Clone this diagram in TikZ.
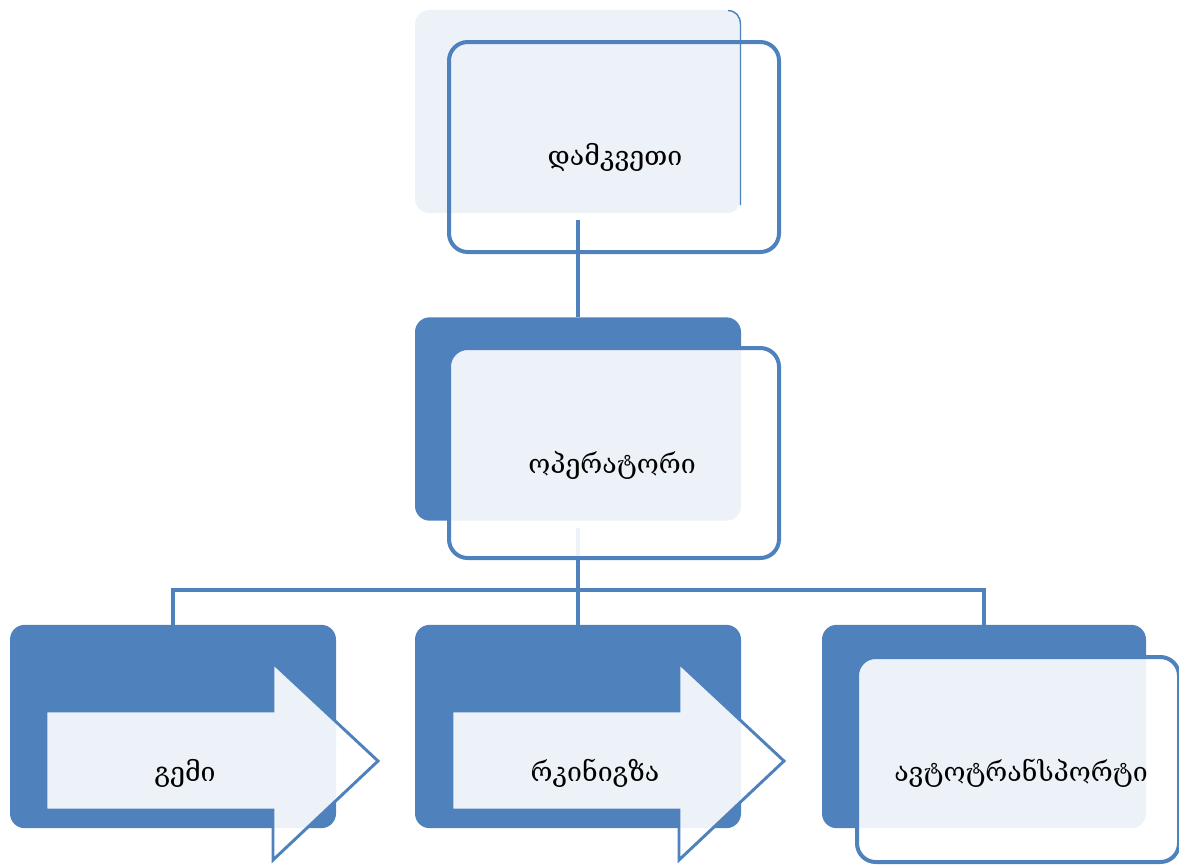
\documentclass[tikz,border=0pt]{standalone}
\usepackage{fontspec}
\setmainfont{DejaVu Serif}
\usetikzlibrary{calc}
\definecolor{blu}{HTML}{4F81BD}
\definecolor{pale}{HTML}{EDF2F8}
\begin{document}
\begin{tikzpicture}[x=0.75pt,y=-0.75pt,
  backbox/.style={fill=blu, rounded corners=11pt, inner sep=0pt, outer sep=0pt,
    minimum width=244.5pt, minimum height=152.5pt},
  frontbox/.style={draw=blu, line width=3pt, rounded corners=14pt, inner sep=0pt, outer sep=0pt,
    minimum width=247.5pt, minimum height=157.5pt},
  veil/.style={fill=white, fill opacity=0.9},
  conn/.style={draw=blu, line width=3.7pt},
  arrowshape/.style={draw=blu, line width=2.2pt, fill=white, fill opacity=0.9, line join=miter},
  lbl/.style={font=\fontsize{20}{24}\selectfont, text=black, inner sep=0pt}
]
\useasboundingbox (0,0) rectangle (1179,865);

% back rectangles
\node[backbox, fill=pale] (topback) at (578,111.5) {};
\draw[blu, line width=1.1pt] (728,10.5) .. controls (736,11) and (740,16) .. (740.5,24) -- (740.5,205);
\node[backbox] (midback) at (578,419) {};
\node[backbox] (b1back) at (173,726.5) {};
\node[backbox] (b2back) at (578,726.5) {};
\node[backbox, minimum width=243pt] (b3back) at (984,726.5) {};

% connectors
\coordinate (c1) at (578,220);
\coordinate (c2) at (578,528);
\coordinate (hb) at (578,590);
\draw[conn] (c1) -- (midback.north);
\draw[conn] (c2) -- (b2back.north);
\draw[conn] (b1back.north) |- (hb) -| (b3back.north);

% front shapes
\node[frontbox] (topfront) at (614,147) {};
\node[frontbox, veil] (midfront) at (614,453) {};
\node[frontbox, veil, minimum width=241.5pt, minimum height=153.75pt] (b3front) at (1018,759.5) {};

\draw[arrowshape] (46,711) -- (273,711) -- (273,663) -- (378,761) -- (273,860) -- (273,810) -- (46,810) -- cycle;
\draw[arrowshape] (452,711) -- (679,711) -- (679,663) -- (784,761) -- (679,860) -- (679,810) -- (452,810) -- cycle;

% labels
\node[lbl] (t1) at (615,157) {დამკვეთი};
\node[lbl] (t2) at (612,465) {ოპერატორი};
\node[lbl] (t3) at (185,773) {გემი};
\node[lbl] (t4) at (595,773) {რკინიგზა};
\node[lbl] (t5) at (1021,773) {ავტოტრანსპორტი};
\end{tikzpicture}
\end{document}
